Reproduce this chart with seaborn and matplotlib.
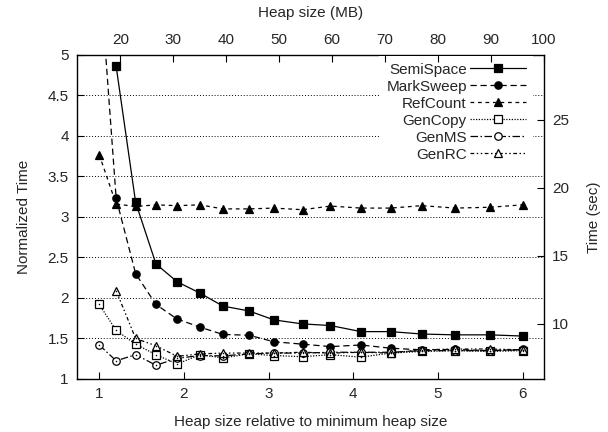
import numpy as np
import pandas as pd
import seaborn as sns
import matplotlib

matplotlib.use("Agg", force=True)
from matplotlib import pyplot as plt  # noqa: E402

# heap size relative to the minimum heap size (16 MB)
heap_rel = [1.0, 1.2, 1.43, 1.67, 1.92, 2.19, 2.46, 2.77, 3.06, 3.40,
            3.73, 4.09, 4.44, 4.81, 5.20, 5.61, 6.0]
min_heap_mb = 16.0
min_time_sec = 5.95

semispace = [np.nan, 4.86, 3.18, 2.42, 2.20, 2.06, 1.90, 1.84, 1.73, 1.68,
             1.66, 1.585, 1.585, 1.555, 1.545, 1.545, 1.53]
marksweep = [6.10, 3.23, 2.30, 1.92, 1.74, 1.64, 1.55, 1.54, 1.46, 1.43,
             1.40, 1.42, 1.38, 1.36, 1.365, 1.35, 1.365]
refcount = [3.77, 3.16, 3.13, 3.15, 3.14, 3.15, 3.10, 3.10, 3.11, 3.09,
            3.135, 3.11, 3.11, 3.14, 3.11, 3.12, 3.15]
gencopy = [1.92, 1.60, 1.43, 1.30, 1.185, 1.30, 1.26, 1.31, 1.29, 1.275,
           1.30, 1.27, 1.32, 1.34, 1.35, 1.34, 1.35]
genms = [1.42, 1.225, 1.30, 1.17, 1.255, 1.29, 1.285, 1.31, 1.32, 1.32,
         1.33, 1.33, 1.33, 1.35, 1.35, 1.35, 1.36]
genrc = [np.nan, 2.09, 1.50, 1.41, 1.28, 1.31, 1.32, 1.32, 1.32, 1.33,
         1.32, 1.33, 1.32, 1.36, 1.37, 1.37, 1.36]

series_names = ["SemiSpace", "MarkSweep", "RefCount", "GenCopy", "GenMS", "GenRC"]
series_values = [semispace, marksweep, refcount, gencopy, genms, genrc]

y_ticks = [1, 1.5, 2, 2.5, 3, 3.5, 4, 4.5, 5]
y_tick_labels = ["1", "1.5", "2", "2.5", "3", "3.5", "4", "4.5", "5"]
x_ticks = [1, 2, 3, 4, 5, 6]
mb_ticks = [20, 30, 40, 50, 60, 70, 80, 90, 100]
sec_ticks = [10, 15, 20, 25]

STYLES = {
    "SemiSpace": dict(ls="-", marker="s", ms=6.0, mfc="black"),
    "MarkSweep": dict(ls=(0, (5, 3)), marker="o", ms=5.3, mfc="black"),
    "RefCount": dict(ls=(0, (3, 3)), marker="^", ms=5.3, mfc="black"),
    "GenCopy": dict(ls=(0, (1, 1.2)), marker="s", ms=5.4, mfc="white"),
    "GenMS": dict(ls=(0, (6, 2, 1.2, 2)), marker="o", ms=5.4, mfc="white"),
    "GenRC": dict(ls=(0, (3, 2, 1.2, 2, 1.2, 2)), marker="^", ms=5.8, mfc="white"),
}

frame = pd.DataFrame(
    [
        {"heap": x, "time": v, "collector": name}
        for name, values in zip(series_names, series_values)
        for x, v in zip(heap_rel, values)
    ]
).dropna()

sns.set_style("white")
plt.rcParams["font.family"] = ["Liberation Sans", "DejaVu Sans"]
plt.rcParams["font.size"] = 11

fig = plt.figure(figsize=(6.08, 4.32), dpi=100)
ax = fig.add_axes([0.1266, 0.1227, 0.7681, 0.75])

for y in y_ticks[1:-1]:
    ax.axhline(y, color="black", lw=0.7, ls=(0, (1, 2)), zorder=0)

for name in series_names:
    style = STYLES[name]
    sub = frame[frame["collector"] == name]
    sns.lineplot(
        data=sub, x="heap", y="time", ax=ax, color="black", lw=0.9,
        linestyle=style["ls"], marker=style["marker"], markersize=style["ms"],
        markerfacecolor=style["mfc"], markeredgecolor="black",
        markeredgewidth=0.9, label=name, estimator=None, sort=False,
    )
    if style["mfc"] == "white":
        sns.scatterplot(data=sub, x="heap", y="time", ax=ax, color="black",
                        s=1.2, marker="o", linewidth=0, legend=False, zorder=5)

ax.set_xlim(0.7375, 6.25)
ax.set_ylim(1, 5)
ax.set_yticks(y_ticks)
ax.set_yticklabels(y_tick_labels)
ax.set_xticks(x_ticks)
ax.set_xlabel("Heap size relative to minimum heap size", labelpad=10)
ax.set_ylabel("Normalized Time", labelpad=12)
ax.tick_params(direction="in", length=5, width=0.8, color="black", pad=6)
for spine in ax.spines.values():
    spine.set_color("black")
    spine.set_linewidth(1.0)

handles, labels = ax.get_legend_handles_labels()
leg = ax.legend(
    handles, labels, loc="upper right", bbox_to_anchor=(0.977, 0.998),
    borderaxespad=0, markerfirst=False, frameon=True, framealpha=1,
    fancybox=False, edgecolor="none", facecolor="white",
    handlelength=3.7, handletextpad=0.2, labelspacing=0.2, borderpad=0.45,
)
leg.set_zorder(10)

# right axis: absolute time
ax_sec = ax.twinx()
ax_sec.set_ylim(min_time_sec * 1, min_time_sec * 5)
ax_sec.set_yticks(sec_ticks)
ax_sec.set_ylabel("Time (sec)", rotation=90, labelpad=13)
ax_sec.tick_params(direction="in", length=5, width=0.8, color="black", pad=6)

# top axis: absolute heap size
ax_mb = ax.twiny()
ax_mb.set_xlim(0.7375 * min_heap_mb, 6.25 * min_heap_mb)
ax_mb.set_xticks(mb_ticks)
ax_mb.set_xlabel("Heap size (MB)", labelpad=11)
ax_mb.tick_params(direction="in", length=5, width=0.8, color="black", pad=6)

for extra in (ax_sec, ax_mb):
    for spine in extra.spines.values():
        spine.set_visible(False)

fig.savefig("out.png", dpi=100)
